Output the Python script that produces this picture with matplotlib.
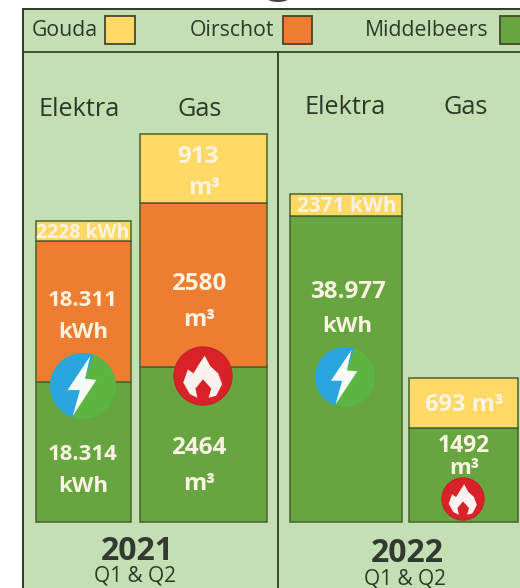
import matplotlib
matplotlib.use('Agg')
import matplotlib.pyplot as plt
import matplotlib.patches as patches

plt.rcParams['font.family'] = ['Open Sans', 'DejaVu Sans']

# segment lengths as drawn in the picture (the infographic is not to one scale)
locations = ['Middelbeers', 'Oirschot', 'Gouda']
elektra_2021 = [140, 141, 20]
gas_2021 = [155, 164, 69]
elektra_2022 = [306, 0, 22]
gas_2022 = [94, 0, 50]

value_labels = ['2228 kWh', '18.311', 'kWh', '18.314', 'kWh',
                '913', 'm³', '2580', 'm³', '2464', 'm³',
                '2371 kWh', '38.977', 'kWh', '693 m³', '1492', 'm³']
label_x = [83, 83, 83, 83, 83, 198, 204, 199, 199, 199, 199, 347, 348, 347, 464, 464, 464]
label_y = [233, 301, 333, 454, 487, 157, 188, 284, 320, 448, 484, 207, 292, 327, 405, 446, 468]
label_size = [14, 16, 16, 16, 16, 17.5, 17, 17.5, 17, 17.5, 17, 15, 17.5, 16, 17, 16.5, 16]

colors = {'Gouda': '#ffd966', 'Oirschot': '#ed7d31', 'Middelbeers': '#66a53f'}
BG = '#c5dfb5'
DARK = '#2c3a26'
LABEL = '#fdf3e3'
BOLT = [(7, 29), (-15, -4), (-3, -4), (-10, -29), (13, 6), (2, 7)]
FLAME = [(5, 62), (22, 30), (46, 8), (58, -25), (40, -60), (17, -66), (25, -38), (0, -10),
         (-23, -38), (-17, -66), (-40, -55), (-60, -20), (-46, 20), (-29, 8), (-12, 36)]


def Y(y):
    return 588 - y


def draw_bar(ax, left, right, segments):
    bottom = 66
    for name, h in zip(locations, segments):
        if h == 0:
            continue
        ax.bar((left + right) / 2, h, width=right - left, bottom=bottom, color=colors[name],
               edgecolor='#46622f', linewidth=1.1, zorder=3)
        bottom += h


def bolt_icon(ax, cx, cy, r):
    y = Y(cy)
    ax.add_patch(patches.Circle((cx, y), r, facecolor='#5bb540', edgecolor='none', zorder=4))
    ax.add_patch(patches.Wedge((cx, y), r, 72, 252, facecolor='#2aa5de', edgecolor='none', zorder=5))
    pts = [(cx + px * r / 32, y + py * r / 32) for px, py in BOLT]
    ax.add_patch(patches.Polygon(pts, closed=True, facecolor='#f7fbf5', edgecolor='none', zorder=6))


def flame_icon(ax, cx, cy, r):
    y = Y(cy)
    ax.add_patch(patches.Circle((cx, y), r, facecolor='#d92128', edgecolor='#c8232a', zorder=4))
    pts = [(cx + px * r / 88, y + py * r / 88) for px, py in FLAME]
    ax.add_patch(patches.Polygon(pts, closed=True, facecolor='#fbf1ee', edgecolor='none', zorder=6))


fig = plt.figure(figsize=(5.2, 5.88), dpi=100)
ax = fig.add_axes([0, 0, 1, 1])
ax.set_xlim(0, 520)
ax.set_ylim(0, 588)
ax.axis('off')

# panel and dividers
ax.add_patch(patches.Rectangle((22.5, -5), 510, Y(9) + 5, facecolor=BG, edgecolor=DARK, linewidth=1.4))
ax.plot([23, 520], [Y(52), Y(52)], color=DARK, linewidth=1.2)
ax.plot([278, 278], [Y(52), 0], color=DARK, linewidth=1.3)
ax.add_patch(patches.Ellipse((278, 590), 22, 8, facecolor='#444444', edgecolor='none'))

# legend
for name, tx, x0, x1 in [('Gouda', 65, 105, 135), ('Oirschot', 232, 283, 312), ('Middelbeers', 427, 500, 527)]:
    ax.text(tx, Y(31), name, color=DARK, fontsize=15.3, ha='center', va='center')
    ax.add_patch(patches.Rectangle((x0, Y(44)), x1 - x0, 28, facecolor=colors[name], edgecolor='#46472a', linewidth=1.3))

# column headers
for label, x, y in [('Elektra', 79, 109), ('Gas', 200, 109), ('Elektra', 345, 107), ('Gas', 466, 107)]:
    ax.text(x, Y(y), label, color=DARK, fontsize=18.2, ha='center', va='center')

draw_bar(ax, 36, 131, elektra_2021)
draw_bar(ax, 140, 267, gas_2021)
draw_bar(ax, 290, 402, elektra_2022)
draw_bar(ax, 409, 518, gas_2022)

for label, x, y, size in zip(value_labels, label_x, label_y, label_size):
    ax.text(x, Y(y), label, color=LABEL, fontsize=size, fontweight='bold',
            ha='center', va='center', zorder=6)

bolt_icon(ax, 83, 386, 33)
flame_icon(ax, 203, 376, 29)
bolt_icon(ax, 345, 377, 30)
flame_icon(ax, 463, 499, 21)

# years
for year, x, y in [('2021', 137, 551), ('2022', 407, 554)]:
    ax.text(x, Y(y), year, color='#333a30', fontsize=23, fontweight='bold', ha='center', va='center')
    ax.text(x - 2, Y(y + 25), 'Q1 & Q2', color=DARK, fontsize=15, ha='center', va='center')

plt.savefig('out.png', dpi=100)
plt.close()
